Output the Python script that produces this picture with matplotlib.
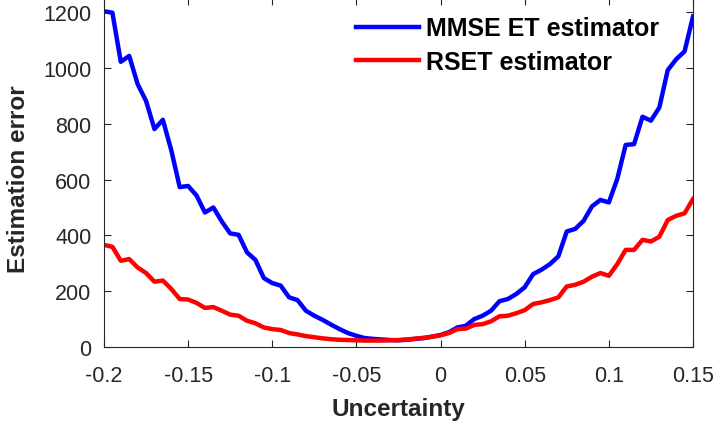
import numpy as np
import matplotlib
matplotlib.use("Agg")
import matplotlib.pyplot as plt

plt.rcParams['font.family'] = ['Liberation Sans', 'DejaVu Sans']

# uncertainty grid, step 0.005
x = np.round(np.arange(-0.2, 0.15 + 1e-9, 0.005), 3)

mmse_et = [1203, 1198, 1022, 1043, 942, 882, 781, 814, 705, 573,
           577, 543, 482, 500, 450, 407, 402, 339, 312, 247,
           229, 220, 178, 168, 130, 112, 97, 80, 64, 50,
           40, 32, 29, 27, 25, 24, 26, 29, 32, 37,
           43, 53, 70, 76, 100, 112, 130, 164, 172, 190,
           214, 261, 277, 297, 325, 414, 423, 452, 504, 527,
           518, 602, 724, 727, 825, 811, 858, 992, 1031, 1059,
           1184]

rset = [366, 359, 309, 315, 285, 265, 234, 238, 208, 172,
        170, 158, 140, 143, 130, 116, 112, 94, 85, 70,
        64, 61, 50, 45, 39, 35, 31, 28, 26, 25,
        24, 23, 23, 23, 24, 25, 27, 30, 33, 37,
        42, 50, 64, 66, 79, 82, 92, 110, 112, 121,
        132, 154, 160, 168, 178, 217, 223, 234, 252, 265,
        255, 297, 348, 348, 384, 378, 395, 455, 470, 479,
        530]

xticks = [-0.2, -0.15, -0.1, -0.05, 0, 0.05, 0.1, 0.15]
xticklabels = ['-0.2', '-0.15', '-0.1', '-0.05', '0', '0.05', '0.1', '0.15']
yticks = [0, 200, 400, 600, 800, 1000, 1200]

fig = plt.figure(figsize=(7.17, 4.27), dpi=100)
ax = fig.add_axes([0.145, 0.185, 0.8215, 0.817])

ax.plot(x, mmse_et, color='#0000ff', lw=3.2, label='MMSE ET estimator')
ax.plot(x, rset, color='#ff0000', lw=3.2, label='RSET estimator')

ax.set_xlim(-0.2, 0.15)
ax.set_ylim(0, 1250)
ax.set_xticks(xticks)
ax.set_xticklabels(xticklabels)
ax.set_yticks(yticks)

gray = '#262626'
for s in ax.spines.values():
    s.set_color(gray)
    s.set_linewidth(0.8)
ax.tick_params(direction='in', length=5, width=0.8, colors=gray,
               labelsize=15.5, top=True, right=True)
ax.tick_params(axis='x', pad=13)
ax.tick_params(axis='y', pad=9)

ax.set_xlabel('Uncertainty', fontsize=17.5, fontweight='bold', color=gray)
ax.set_ylabel('Estimation error', fontsize=17.5, fontweight='bold', color=gray)
ax.xaxis.set_label_coords(0.5, -0.143)
ax.yaxis.set_label_coords(-0.1256, 0.484)

leg = ax.legend(loc='upper left', frameon=False, prop={'size': 18, 'weight': 'bold'},
                handlelength=2.5, handletextpad=0.28, labelspacing=0.38,
                borderpad=0, borderaxespad=0,
                bbox_to_anchor=(356 / 717, 1 - 17.5 / 427),
                bbox_transform=fig.transFigure)

fig.savefig('out.png', dpi=100)
